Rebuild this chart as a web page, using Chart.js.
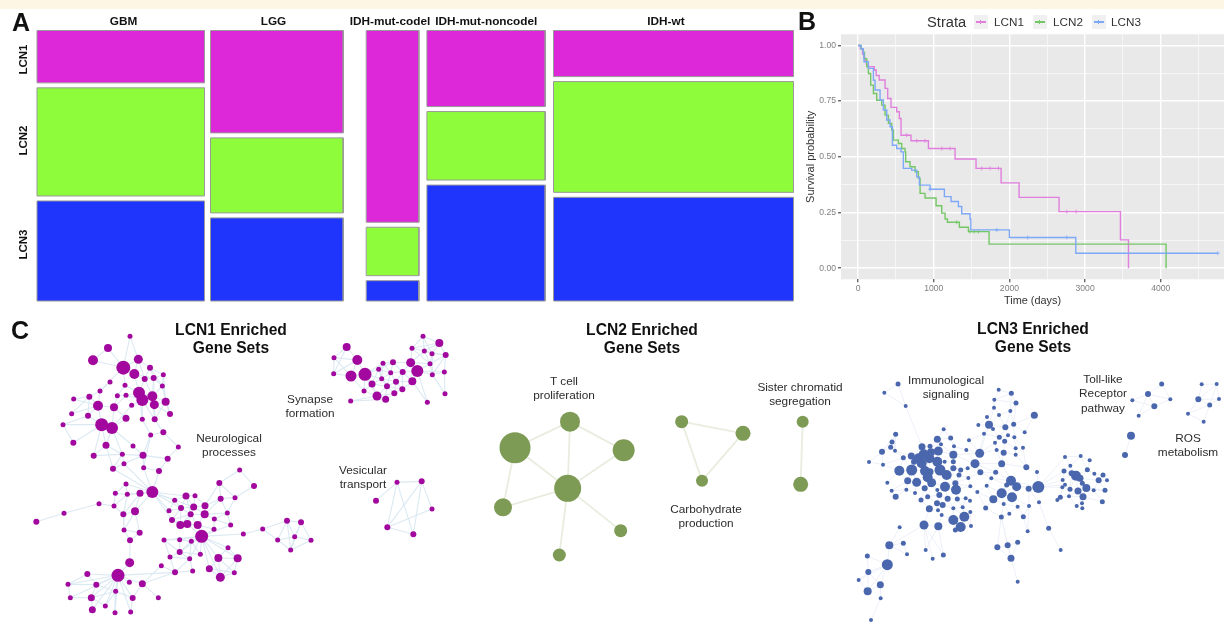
<!DOCTYPE html>
<html>
<head>
<meta charset="utf-8">
<title>LCN clusters</title>
<script src="https://cdn.jsdelivr.net/npm/chart.js@4"></script>
<style>
  html, body { margin: 0; padding: 0; background: #fff; }
  body { width: 1224px; height: 623px; position: relative; overflow: hidden; font-family: "Liberation Sans", Arial, sans-serif; filter: blur(0.4px); }
  canvas { position: absolute; }
  #band { position: absolute; left: 0; top: 0; width: 1224px; height: 9px; background: #fef6e4; }
  .letter { position: absolute; font-weight: bold; font-size: 25px; line-height: 25px; color: #111; }
  .title { position: absolute; transform: translateX(-50%); text-align: center; font-weight: bold; font-size: 15.6px; line-height: 18.3px; color: #111; white-space: nowrap; }
  .label { position: absolute; transform: translateX(-50%); text-align: center; font-size: 11.8px; line-height: 14.4px; color: #2b2b2b; white-space: nowrap; }
  .lg { position: absolute; white-space: nowrap; color: #333; }
  .key { position: absolute; top: 15px; width: 14px; height: 14px; background: #f0f0f0; }
  .key i { position: absolute; left: 2px; right: 2px; top: 6px; height: 1.5px; }
  .key b { position: absolute; left: 6.2px; top: 5px; width: 1.2px; height: 3.5px; }
</style>
</head>
<body>
<div id="band"></div>
<canvas id="panelA" width="800" height="310" style="left:0;top:0"></canvas>
<canvas id="panelB" width="434" height="310" style="left:790px;top:0"></canvas>
<canvas id="netNeuro" width="330" height="308" style="left:0;top:315px"></canvas>
<canvas id="netSynapse" width="200" height="230" style="left:280px;top:315px"></canvas>
<canvas id="netTcell" width="360" height="260" style="left:480px;top:315px"></canvas>
<canvas id="netImmune" width="374" height="308" style="left:850px;top:315px"></canvas>

<div class="letter" style="left:12px;top:10px">A</div>
<div class="letter" style="left:798px;top:9px">B</div>
<div class="letter" style="left:11px;top:318px">C</div>

<div class="lg" style="left:927px;top:14px;font-size:14.7px">Strata</div>
<div class="key" style="left:974px"><i style="background:#e17fdd"></i><b style="background:#e17fdd"></b></div>
<div class="lg" style="left:994px;top:15px;font-size:11.7px">LCN1</div>
<div class="key" style="left:1033px"><i style="background:#74c765"></i><b style="background:#74c765"></b></div>
<div class="lg" style="left:1053px;top:15px;font-size:11.7px">LCN2</div>
<div class="key" style="left:1092px"><i style="background:#7ea8f8"></i><b style="background:#7ea8f8"></b></div>
<div class="lg" style="left:1111px;top:15px;font-size:11.7px">LCN3</div>

<div class="title" style="left:231px;top:321px">LCN1 Enriched<br>Gene Sets</div>
<div class="title" style="left:642px;top:321px">LCN2 Enriched<br>Gene Sets</div>
<div class="title" style="left:1033px;top:320px">LCN3 Enriched<br>Gene Sets</div>

<div class="label" style="left:229px;top:431px">Neurological<br>processes</div>
<div class="label" style="left:310px;top:392px">Synapse<br>formation</div>
<div class="label" style="left:363px;top:463px">Vesicular<br>transport</div>
<div class="label" style="left:564px;top:374px">T cell<br>proliferation</div>
<div class="label" style="left:800px;top:380px">Sister chromatid<br>segregation</div>
<div class="label" style="left:706px;top:502px">Carbohydrate<br>production</div>
<div class="label" style="left:946px;top:373px">Immunological<br>signaling</div>
<div class="label" style="left:1103px;top:372px">Toll-like<br>Receptor<br>pathway</div>
<div class="label" style="left:1188px;top:431px">ROS<br>metabolism</div>

<script>
// ================= A. mosaic =================
const columns = ['GBM', 'LGG', 'IDH-mut-codel', 'IDH-mut-noncodel', 'IDH-wt'];
const columnSize = [167.5, 132.7, 52.7, 118.3, 240];
const rows = ['LCN1', 'LCN2', 'LCN3'];
const lcn1Share = [20.1, 39.3, 73.6, 29.2, 17.7];
const lcn2Share = [41.5, 28.8, 18.6, 26.3, 42.5];
const lcn3Share = [38.4, 31.9, 7.8, 44.5, 39.8];

// ================= B. survival curves (time in days) =================
const lcn1Time = [0, 30, 60, 75, 90, 110, 135, 215, 240, 280, 357, 392, 436, 511, 546, 568, 700, 930, 1282, 1559, 1890, 2128, 2656, 3467, 3573];
const lcn1Surv = [1, 0.985, 0.96, 0.945, 0.93, 0.915, 0.905, 0.89, 0.865, 0.845, 0.807, 0.762, 0.722, 0.702, 0.672, 0.597, 0.572, 0.537, 0.49, 0.448, 0.383, 0.318, 0.254, 0.127, 0];
const lcn2Time = [0, 40, 70, 85, 115, 137, 167, 203, 247, 313, 357, 401, 445, 467, 533, 577, 621, 630, 687, 753, 797, 820, 885, 1031, 1106, 1150, 1181, 1339, 1458, 1731, 4070];
const lcn2Surv = [1, 0.985, 0.97, 0.94, 0.904, 0.874, 0.822, 0.784, 0.754, 0.732, 0.687, 0.65, 0.62, 0.575, 0.56, 0.537, 0.522, 0.478, 0.455, 0.433, 0.403, 0.336, 0.315, 0.28, 0.247, 0.221, 0.206, 0.184, 0.164, 0.108, 0];
const lcn3Time = [0, 40, 70, 79, 137, 203, 225, 291, 335, 379, 423, 454, 511, 568, 599, 709, 775, 811, 952, 1141, 1229, 1326, 1370, 1480, 1490, 2000, 2877, 4753];
const lcn3Surv = [1, 0.985, 0.964, 0.927, 0.897, 0.844, 0.8, 0.755, 0.71, 0.665, 0.635, 0.552, 0.537, 0.522, 0.448, 0.44, 0.41, 0.373, 0.354, 0.321, 0.299, 0.277, 0.244, 0.221, 0.172, 0.138, 0.067, 0.067];
const lcn1CensorTime = [643, 775, 885, 1106, 1216, 1634, 1744, 1855, 2758, 2881];
const lcn1CensorSurv = [0.597, 0.572, 0.572, 0.537, 0.537, 0.448, 0.448, 0.448, 0.254, 0.254];
const lcn2CensorTime = [1304, 1480, 1533, 1590];
const lcn2CensorSurv = [0.206, 0.164, 0.164, 0.164];
const lcn3CensorTime = [952, 1833, 2242, 2758, 4753];
const lcn3CensorSurv = [0.354, 0.172, 0.138, 0.138, 0.067];
const timeTicks = [0, 500, 1000, 1500, 2000, 2500, 3000, 3500, 4000, 4500];
const survTicks = [0, 0.125, 0.25, 0.375, 0.5, 0.625, 0.75, 0.875, 1];

// ================= C. enrichment networks (layout units, gene set size) =================
// LCN1 neurological processes
const neuroX = [390,324,279,370,415,403,450,490,330,375, 434,461,487,300,221,268,352,378,417,457, 427,463,497,395,294,342,215,264,378,427, 464,510,305,336,189,490,452,220,318,399, 535,281,367,429,503,372,339,431,477,378, 457,420,346,382,297,342,192,109,370,405, 372,419,719,762,658,558,585,524,662,705, 543,581,615,507,572,614,682,516,643,541, 562,593,692,642,605,730,788,861,903,884, 833,933,872,492,539,574,684,539,510,601, 569,655,713,628,661,703,578,525,484,390, 389,354,262,204,289,388,427,347,211,274, 398,475,316,277,345,392];
const neuroY = [64,99,136,158,133,177,158,179,201,211, 192,189,213,228,252,245,242,241,233,244, 255,269,260,271,272,277,296,302,310,313, 313,297,329,339,329,352,360,383,391,393, 396,422,418,421,431,446,461,458,468,507, 531,535,535,538,566,573,595,620,598,589, 645,653,465,513,504,543,542,556,551,548, 579,576,572,587,598,598,594,615,612,630, 627,630,630,643,664,657,642,617,622,665, 675,676,705,675,674,679,698,711,726,718, 731,729,730,761,787,773,768,772,752,676, 743,781,777,808,809,802,806,829,848,848, 849,848,873,884,893,891];
const neuroSize = [2.5,4,5,7,4.5,5,3,2.5,2.5,2.5, 3,3,2.5,2.5,2.5,3,2.5,2.5,6,5, 6,4.5,4,2.5,5,4,2.5,3,3.5,2.5, 3,3,6.5,6,2.5,3,2.5,3,3.5,2.5, 2.5,3,2.5,3.5,3,2.5,3,2.5,3,2.5, 6,3.5,2.5,2.5,2.5,2.5,2.5,3,3,4, 2.5,3,2.5,3,3,3.5,2.5,2.5,3,2.5, 3,3.5,3.5,2.5,3,4,2.5,3,2.5,4, 4,4,2.5,2.5,6.5,2.5,2.5,3,3,2.5, 2.5,2.5,2.5,2.5,2.5,2.5,2.5,3,2.5,2.5, 2.5,4,4,3.5,4.5,2.5,2.5,3,2.5,3, 4.5,6.5,3,2.5,3,2.5,3.5,2.5,2.5,3.5, 3,2.5,2.5,3.5,2.5,2.5];
const neuroLinks = [[0,[3,4]],[1,[2,3]],[2,[3]],[3,[4,5,9,13]],[4,[6,5,10]],[5,[10,11,18]],[6,[7,10,11,12]],[7,[11,12,22]],[10,[11,18,19]],[11,[12,19,21]],[12,[19,22,31]],[18,[19,20,17,9,29]],[19,[20,21,22,30]],[20,[21,23,29,30,17]],[21,[22,30,31]],[22,[31,30]],[13,[15,24,8]],[14,[15,24]],[15,[24,27,26]],[24,[25,32,27,26]],[25,[16,17,33,28]],[16,[9,17]],[27,[32,34]],[32,[33,34,37,38,41]],[33,[38,39,42,28,23]],[34,[37]],[35,[30,36,40]],[36,[29,47,43]],[38,[41,42,46]],[42,[41,43,45,46]],[43,[39,45,47,44]],[44,[48,40]],[47,[50,48]],[45,[50,46]],[46,[50]],[48,[50]],[49,[50,53,52]],[50,[51,53,59,65,67,73,70,71,77]],[51,[53,59,58]],[52,[55,53]],[53,[55,58]],[54,[55,56]],[56,[57]],[55,[58]],[58,[59,60]],[59,[61,60]],[60,[109,61]],[61,[109]],[109,[110]],[110,[111]],[111,[112,114,115,116,117,120,119,113,118,122,124,125,123]],[112,[113,114]],[113,[114,118]],[114,[119,117]],[118,[119]],[119,[122,123,117]],[116,[120,121,107,108]],[117,[120,122,124]],[120,[125]],[65,[66,67,70,71,74]],[66,[71,72]],[67,[70,73]],[70,[71,73,74,77,79]],[71,[72,74,75]],[72,[75,64,68]],[74,[75,77,79,80,81]],[75,[78,81,76,68]],[77,[79,80]],[79,[80,81]],[80,[81,84]],[81,[84,83]],[64,[62,68,69]],[62,[63]],[69,[63,76,68]],[68,[76]],[76,[78,82]],[78,[82,83]],[82,[84]],[83,[84]],[84,[85,93,94,95,96,97,99,100,101,102,103,104]],[85,[86]],[86,[87,90]],[87,[88,89,90,92]],[88,[89,91,92]],[89,[90,91,92]],[90,[92]],[91,[92]],[93,[94,98,97]],[94,[95,97]],[95,[97,100,99]],[97,[98,100,99]],[98,[100,107]],[100,[106,107]],[101,[102,103,104,105,96]],[102,[105,104,96]],[103,[104,105]],[104,[105]],[107,[108,106,111]]];

// LCN1 synapse formation + vesicular transport
const synapseX = [429,478,396,433,456,497,392,450,412,457, 493,397,200,162,232,161,213,255,309,339, 296,332,368,305,276,348,321,252,367,343, 291,317,212,442,495,351,425,288,456,322,400];
const synapseY = [64,84,100,108,116,120,143,146,168,179, 171,199,96,128,135,176,183,178,145,142, 163,173,171,191,207,200,214,228,223,235, 243,253,258,262,236,502,499,557,582,637,658];
const synapseSize = [2.5,4,2.5,2.5,2.5,3,4.5,2.5,6,2.5, 2.5,4,4,2.5,5,2.5,5.5,6.5,2.5,3, 2.5,2.5,3,2.5,3.5,3,3,2.5,3,3, 4.5,3.5,2.5,2.5,2.5,2.5,3,3,2.5,3,3];
const synapseLinks = [[0,[1,2,3,4]],[1,[3,4,5,2]],[2,[3,6,7]],[3,[4,6,7,5]],[4,[5,7,9]],[5,[9,10,7]],[6,[7,8,11,19,22]],[7,[8,9]],[8,[9,11,22,33,10]],[9,[10,34]],[10,[34]],[11,[22,25,28,33]],[12,[13,14,15]],[13,[14,15,16]],[14,[15,16,17]],[15,[16]],[16,[17,27]],[17,[18,20,24,23,30,27]],[18,[19,20,21,23]],[19,[21,22,20]],[20,[21,23,24,26]],[21,[22,23,25,26]],[22,[25,28]],[23,[24,25,26]],[24,[26,27,30]],[25,[26,28,29]],[26,[28,29,30,31]],[28,[29]],[29,[30,31]],[30,[31,27,32]],[31,[32]],[35,[36,37,39,40]],[36,[39,40,38]],[39,[38,40]]];

// LCN2 T cell proliferation, carbohydrate production, sister chromatid segregation
const tcellX = [105,270,431,263,69,422,238,605,789,666,968,962];
const tcellY = [398,320,406,520,577,647,720,320,355,497,320,508];
const tcellSize = [15.5,10,11,13.5,9,6.5,6.5,6.5,7.5,6,6,7.5];
const tcellLinks = [[0,[1,3,4]],[1,[2,3]],[2,[3]],[3,[4,5,6]],[7,[8,9]],[8,[9]],[10,[11]]];

// LCN3 immunological signaling, toll-like receptor pathway, ROS metabolism
const immuneX = [144,103,167,446,484,433,498,432,481,447, 553,411,417,385,429,466,491,281,402,448, 524,474,493,137,302,262,357,126,122,135, 96,435,464,519,497,312,240,273,440,461, 497,349,57,99,389,310,216,265,243,221, 160,184,206,238,262,310,284,192,215,375, 455,148,185,225,240,270,290,310,332,353, 529,391,437,561,173,200,112,233,245,355, 424,483,500,327,316,361,410,125,169,137, 195,224,285,318,240,262,382,536,565,455, 486,430,470,213,233,268,293,322,347,360, 461,503,537,567,407,261,278,238,264,310, 338,361,478,454,520,275,343,310,332,316, 363,222,265,149,533,596,118,160,171,227, 280,248,442,473,503,483,632,112,52,55, 26,91,53,92,63,503,645,692,719,661, 712,642,733,759,678,690,665,746,771,638, 645,637,697,660,684,709,731,765,699,631, 622,657,757,696,680,697,843,825,935,894, 847,961,913,866,1055,1100,1045,1107,1079,1014, 1061];
const immuneY = [207,233,273,224,235,254,264,278,288,300, 301,306,329,330,342,337,328,343,356,367, 352,361,367,358,369,373,376,381,397,407, 410,383,379,398,400,394,394,388,405,413, 419,405,441,449,415,419,395,408,412,418, 428,423,430,430,440,440,440,440,445,446, 446,467,465,468,470,465,480,460,465,460, 457,472,472,471,497,502,503,487,503,489, 490,497,515,480,505,514,512,527,524,545, 534,520,515,524,510,525,531,521,516,535, 547,553,510,555,545,540,551,552,550,557, 567,575,573,562,579,565,570,581,586,580, 577,591,596,606,605,600,605,615,636,645, 633,630,634,637,649,640,691,685,718,705, 720,731,697,691,682,730,705,749,723,771, 795,809,829,850,915,800,426,423,436,452, 464,468,476,480,482,490,475,496,496,495, 509,517,505,523,528,519,526,526,545,547, 555,544,560,565,573,580,362,420,207,237, 256,253,274,302,208,207,253,252,270,296, 320];
const immuneSize = [2.5,2,2,2,2.5,2,2.5,2,2,2, 3.5,2,4,2,2,3,2.5,2,2,2.5, 2,2,2,2.5,2.5,3.5,2,2.5,2.5,2, 3,2,2.5,2,2,2,2.5,2,2,3, 2,2,2,2,4.5,4,3.5,4.5,4,5, 2.5,3.5,5,5,5,2.5,2,3,5,4.5, 3.5,5,5.5,5,3.5,5.5,5,3,2.5,2, 3,3,2.5,2,3.5,4.5,2,5,4.5,2, 2,5,4.5,2.5,3,2,2,2,2,3, 2,3,5,5,2,2,2,3,6,5, 5,4,2.5,2.5,2.5,3,3,2.5,2,2, 2,2,2,2,2.5,3,3,3.5,2,2, 2,2,2,2.5,2.5,2,5,5,5,2.5, 2,4.5,4,2,2,2.5,4,2.5,2,2, 2.5,2,3,3,2.5,3.5,2,5.5,2.5,3, 2,3.5,4,2,2,2,2,2,2,2, 2.5,2.5,2,2.5,5,3.5,3,3,2,2, 2,2,2.5,2.5,3.5,4,2,2.5,3.5,2.5, 2,2,2.5,2,2,2,4,3,2.5,3, 2,2,3,2,2,2,3,2,2.5,2, 2];
const immuneLinks = [[0,[1,2]],[1,[2]],[2,[46]],[3,[5,4]],[4,[5,6,8]],[5,[7,6]],[6,[8,16]],[7,[9,11,12]],[8,[9,15,16]],[9,[12,15]],[10,[16,20]],[11,[12,13]],[12,[13,14,15,18,19,44]],[15,[16,19,21]],[16,[22,20]],[18,[19,26,44]],[19,[21,31,32]],[21,[22,32]],[22,[33,34]],[31,[38,44]],[32,[34,39]],[33,[40,70]],[34,[40]],[38,[39,44,60]],[39,[40,60]],[40,[70]],[44,[45,59,41,26]],[59,[69,71,60,72,41]],[60,[72,70,81]],[17,[24,25]],[23,[27,29,30]],[27,[28,30]],[28,[29,30,50]],[29,[50,51]],[30,[42,43]],[42,[43]],[43,[50,61]],[50,[51,61,62]],[51,[52,46,57]],[46,[49,52,36,48]],[36,[48,37,53,25]],[25,[37,47,24]],[37,[47,45]],[47,[48,54,53,45]],[48,[49,53]],[49,[52,53,58]],[52,[58,57,62]],[53,[54,58,63,64]],[54,[56,65,64]],[55,[56,45,67]],[45,[55,35,59]],[35,[24,41]],[57,[62,58]],[58,[62,63]],[61,[62,74,76]],[62,[63,74,75]],[63,[64,77,75]],[64,[77,65]],[65,[66,77,78]],[66,[67,83,92,84]],[67,[68,69]],[68,[69,83]],[74,[75,88,87]],[75,[77,91,90]],[77,[78,94]],[78,[92,91,95]],[83,[84,79,93]],[84,[92,93,85]],[87,[89,88]],[88,[89,90]],[91,[94,104,103]],[92,[93,95,105,106]],[93,[106,107,85]],[94,[95]],[95,[105]],[103,[104,117]],[104,[105,115]],[105,[106,115,116]],[106,[107,116,119]],[107,[108,120]],[108,[109,120]],[115,[116,117,118]],[116,[118,119,125]],[117,[118,131]],[119,[120,126,127]],[120,[126,121]],[121,[126,130]],[126,[127,128,130]],[127,[128,129,125]],[128,[129,130]],[131,[136,132,139,140,141]],[132,[139,140,125]],[133,[136]],[136,[137,147,138]],[137,[138]],[147,[148,149,150,151,152]],[148,[149]],[149,[150,151,152]],[151,[152,153]],[152,[150]],[153,[154]],[71,[72,79,80]],[72,[80,81]],[79,[85,84]],[80,[81,86,102]],[81,[82,99,102,98]],[82,[99,100,97,98]],[85,[96]],[86,[96,99,101]],[96,[101,114]],[97,[98,112,113]],[98,[73,169,170,171,156,161]],[99,[100,101,102,110]],[100,[110,111,112]],[101,[114,110]],[110,[122,123,111]],[111,[124,122]],[112,[124,134]],[113,[135]],[114,[123]],[122,[123]],[123,[142,143,145]],[124,[134]],[135,[146]],[142,[143,145]],[143,[144,145]],[144,[145]],[145,[155]],[156,[159,157]],[157,[158,159,160]],[158,[160]],[159,[164,166,161]],[160,[164,162,165]],[161,[166,169]],[162,[163,167]],[163,[167,168]],[164,[165,166,172,174,173]],[165,[172,175,167]],[166,[169,173]],[167,[168,176,177]],[169,[170]],[170,[171,173]],[171,[173,179]],[172,[174,175]],[173,[174,181]],[174,[175,178,181]],[175,[176,178,177]],[176,[177,182]],[178,[181,183,184,185,182]],[179,[180,181]],[181,[184]],[183,[184,185]],[184,[185]],[186,[187]],[188,[189,191]],[189,[190,191,192,193]],[190,[192]],[191,[192]],[192,[193]],[194,[195,196]],[195,[196,197,198]],[196,[197,198,199]],[197,[198]],[198,[199,200]],[199,[200]]];

Chart.defaults.font.family = '"Liberation Sans", Arial, sans-serif';
Chart.defaults.animation = false;
Chart.defaults.layout.autoPadding = false;

function pairs(xs, ys) {
    return xs.map((x, i) => ({ x: x, y: ys[i] }));
}

// stop the axes asking for room for their outer labels, the plot box is fixed
function noMargins(s) {
    s.paddingLeft = 0; s.paddingRight = 0; s.paddingTop = 0; s.paddingBottom = 0;
}

// ----------------- A -----------------
const gapAfter = [6, 23, 8, 8.3];   // blank between neighbouring columns
const rowGap = 5;
const mosaicHeight = 270.5;
const fills = ['#dc28d8', '#8efc3a', '#1f35fb'];
const labelNudge = [2.8, -3.4, -2.6, 0.2, -7.6];
const rowLabelAt = [29, 110, 214];
const shares = [lcn1Share, lcn2Share, lcn3Share];

const mosaicSets = [];
const columnCentres = [];
let left = 0;
columns.forEach((name, c) => {
    const right = left + columnSize[c];
    columnCentres.push((left + right) / 2 + labelNudge[c]);
    let top = 0;
    rows.forEach((row, r) => {
        const bottom = top + shares[r][c] * (mosaicHeight - 2 * rowGap) / 100;
        mosaicSets.push({
            label: name + ' ' + row + ' edge',
            data: [{ x: left, y: bottom }, { x: left, y: top }, { x: right, y: top }, { x: right, y: bottom }, { x: left, y: bottom }],
            showLine: true, pointRadius: 0, borderWidth: 1, borderColor: '#999999', fill: false, clip: false
        });
        mosaicSets.push({
            label: name + ' ' + row,
            data: [{ x: left, y: top }, { x: right, y: top }],
            showLine: true, pointRadius: 0, borderWidth: 0, backgroundColor: fills[r], fill: { value: bottom }
        });
        top = bottom + rowGap;
    });
    left = right + (gapAfter[c] || 0);
});

new Chart(document.getElementById('panelA'), {
    type: 'scatter',
    data: { datasets: mosaicSets },
    options: {
        responsive: false,
        layout: { padding: { top: 0, left: 0, right: 6.5, bottom: 9 } },
        plugins: { legend: { display: false }, tooltip: { enabled: false } },
        scales: {
            x: {
                position: 'top', min: 0, max: 756.5,
                grid: { display: false, drawTicks: false }, border: { display: false },
                afterBuildTicks: s => { s.ticks = columnCentres.map(v => ({ value: v })); },
                afterFit: s => { s.height = 30.5; noMargins(s); },
                ticks: {
                    autoSkip: false, maxRotation: 0, padding: 1.5,
                    color: '#111', font: { size: 11.8, weight: 'bold' },
                    callback: (v, i) => columns[i]
                }
            },
            y: {
                reverse: true, min: 0, max: mosaicHeight,
                grid: { display: false, drawTicks: false }, border: { display: false },
                afterBuildTicks: s => { s.ticks = rowLabelAt.map(v => ({ value: v })); },
                afterFit: s => { s.width = 37; noMargins(s); },
                ticks: {
                    autoSkip: false, minRotation: 90, maxRotation: 90, padding: -2, crossAlign: 'center',
                    color: '#111', font: { size: 11.5, weight: 'bold' },
                    callback: (v, i) => rows[i]
                }
            }
        }
    }
});

// ----------------- B -----------------
const greyPanel = {
    id: 'greyPanel',
    beforeDraw(chart) {
        const a = chart.chartArea;
        chart.ctx.fillStyle = '#e9e9e9';
        chart.ctx.fillRect(a.left, a.top, a.right - a.left, a.bottom - a.top);
    }
};

function curve(label, times, surv, color) {
    return { label: label, data: pairs(times, surv), showLine: true, stepped: true, borderColor: color, borderWidth: 1.4, pointRadius: 0 };
}

function censor(label, times, surv, color) {
    return { label: label, data: pairs(times, surv), showLine: false, pointStyle: 'crossRot', rotation: 45, pointRadius: 2, borderWidth: 0.8, borderColor: color, pointBorderColor: color };
}

const isWhole = (v, step) => Math.abs(v / step - Math.round(v / step)) < 1e-6;

new Chart(document.getElementById('panelB'), {
    type: 'scatter',
    data: {
        datasets: [
            curve('LCN3', lcn3Time, lcn3Surv, '#7ea8f8'),
            curve('LCN2', lcn2Time, lcn2Surv, '#74c765'),
            curve('LCN1', lcn1Time, lcn1Surv, '#e17fdd'),
            censor('LCN1 censored', lcn1CensorTime, lcn1CensorSurv, '#e17fdd'),
            censor('LCN2 censored', lcn2CensorTime, lcn2CensorSurv, '#74c765'),
            censor('LCN3 censored', lcn3CensorTime, lcn3CensorSurv, '#7ea8f8')
        ]
    },
    options: {
        responsive: false,
        layout: { padding: { top: 34.3, left: 0, right: 0, bottom: 2 } },
        plugins: { legend: { display: false }, tooltip: { enabled: false } },
        scales: {
            x: {
                min: -225, max: 4835,
                border: { display: false },
                afterBuildTicks: s => { s.ticks = timeTicks.map(v => ({ value: v })); },
                afterFit: s => { s.height = 28.7; noMargins(s); },
                grid: {
                    color: '#fff', tickLength: 3,
                    lineWidth: c => (isWhole(c.tick.value, 1000) ? 1.4 : 0.6),
                    tickColor: c => (isWhole(c.tick.value, 1000) ? '#666' : 'rgba(0,0,0,0)')
                },
                ticks: {
                    autoSkip: false, maxRotation: 0, padding: 1,
                    color: '#7f7f7f', font: { size: 8.6 },
                    callback: v => (isWhole(v, 1000) ? String(v) : '')
                },
                title: { display: true, text: 'Time (days)', color: '#333', font: { size: 10.9 }, padding: { top: 0, bottom: 0 } }
            },
            y: {
                min: -0.05, max: 1.05,
                border: { display: false },
                afterBuildTicks: s => { s.ticks = survTicks.map(v => ({ value: v })); },
                afterFit: s => { s.width = 51; noMargins(s); },
                grid: {
                    color: '#fff', tickLength: 3,
                    lineWidth: c => (isWhole(c.tick.value, 0.25) ? 1.4 : 0.6),
                    tickColor: c => (isWhole(c.tick.value, 0.25) ? '#666' : 'rgba(0,0,0,0)')
                },
                ticks: {
                    autoSkip: false, padding: 2,
                    color: '#7f7f7f', font: { size: 8.6 },
                    callback: v => (isWhole(v, 0.25) ? v.toFixed(2) : '')
                },
                title: { display: true, text: 'Survival probability', color: '#333', font: { size: 11 }, padding: { top: 14, bottom: 0 } }
            }
        }
    },
    plugins: [greyPanel]
});

// ----------------- C -----------------
function linkSets(xs, ys, links, color, width) {
    // one short line per overlap between two gene sets
    const sets = [];
    links.forEach(([hub, others]) => {
        others.forEach(o => {
            sets.push({
                label: 'overlap',
                data: [{ x: xs[hub], y: ys[hub] }, { x: xs[o], y: ys[o] }],
                showLine: true, pointRadius: 0, borderColor: color, borderWidth: width
            });
        });
    });
    return sets;
}

function network(id, xs, ys, sizes, links, nodeColor, linkColor, linkWidth) {
    const canvas = document.getElementById(id);
    return new Chart(canvas, {
        type: 'scatter',
        data: {
            datasets: [
                { label: 'gene sets', data: pairs(xs, ys), pointRadius: sizes, pointBackgroundColor: nodeColor, pointBorderColor: nodeColor, pointBorderWidth: 0 }
            ].concat(linkSets(xs, ys, links, linkColor, linkWidth))
        },
        options: {
            responsive: false,
            layout: { padding: 0 },
            plugins: { legend: { display: false }, tooltip: { enabled: false } },
            scales: {
                x: { display: false, min: 0, max: canvas.width * 3 },
                y: { display: false, reverse: true, min: 0, max: canvas.height * 3 }
            }
        }
    });
}

network('netNeuro', neuroX, neuroY, neuroSize, neuroLinks, '#a2089e', '#dbe9f2', 1.1);
network('netSynapse', synapseX, synapseY, synapseSize, synapseLinks, '#a2089e', '#dbe9f2', 1.1);
network('netTcell', tcellX, tcellY, tcellSize, tcellLinks, '#7d9b54', '#e9eddf', 1.8);
network('netImmune', immuneX, immuneY, immuneSize, immuneLinks, '#4a67ae', '#edf0f8', 1);
</script>
</body>
</html>
